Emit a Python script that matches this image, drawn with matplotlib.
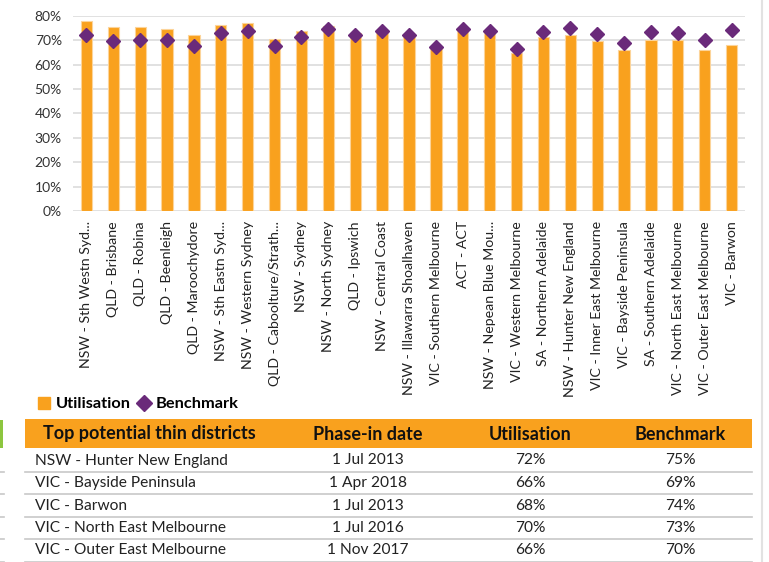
import matplotlib
matplotlib.use("Agg")
import matplotlib.pyplot as plt
from matplotlib.patches import Rectangle
from matplotlib.lines import Line2D
from matplotlib.transforms import Bbox, TransformedBbox

plt.rcParams['font.family'] = ['Lato', 'DejaVu Sans']

# chart data (percent)
districts = ["NSW - Sth Westn Syd...", "QLD - Brisbane", "QLD - Robina", "QLD - Beenleigh",
             "QLD - Maroochydore", "NSW - Sth Eastn Syd...", "NSW - Western Sydney",
             "QLD - Caboolture/Strath...", "NSW - Sydney", "NSW - North Sydney", "QLD - Ipswich",
             "NSW - Central Coast", "NSW - Illawarra Shoalhaven", "VIC - Southern Melbourne",
             "ACT - ACT", "NSW - Nepean Blue Mou...", "VIC - Western Melbourne",
             "SA - Northern Adelaide", "NSW - Hunter New England", "VIC - Inner East Melbourne",
             "VIC - Bayside Peninsula", "SA - Southern Adelaide", "VIC - North East Melbourne",
             "VIC - Outer East Melbourne", "VIC - Barwon"]
utilisation = [78, 75.2, 75.2, 74.6, 72.1, 76.2, 77.0, 70.3, 73.7, 75.8, 72.8, 74.3, 72.3,
               66.7, 73.7, 72.8, 64.6, 71.4, 72, 69.8, 66, 70.1, 70, 66, 68]
benchmark = [72, 69.6, 70, 69.9, 67.8, 72.8, 73.6, 67.8, 71.1, 74.7, 72.1, 73.7, 72.3,
             67.4, 74.4, 73.8, 66.4, 73.5, 75, 72.6, 69, 73.2, 73, 70, 74]

# table data
tbl_cols = ["Top potential thin districts", "Phase-in date", "Utilisation", "Benchmark"]
tbl_district = ["NSW - Hunter New England", "VIC - Bayside Peninsula", "VIC - Barwon",
                "VIC - North East Melbourne", "VIC - Outer East Melbourne"]
tbl_date = ["1 Jul 2013", "1 Apr 2018", "1 Jul 2013", "1 Jul 2016", "1 Nov 2017"]
tbl_util = ["72%", "66%", "68%", "70%", "66%"]
tbl_bench = ["75%", "69%", "74%", "73%", "70%"]

ORANGE = '#F9A11E'
PURPLE = '#6A2A7A'
W, H = 769, 562

fig = plt.figure(figsize=(W / 100, H / 100), dpi=100)

# chart
ax = fig.add_axes([73 / W, 1 - 211.3 / H, 672 / W, 195.6 / H])
x = range(len(districts))
ax.bar(x, utilisation, width=0.42, color=ORANGE, edgecolor='#FCD49A', linewidth=0.8, zorder=2)
ax.plot(x, benchmark, 'D', color=PURPLE, ms=7.5, zorder=3)
ax.set_xlim(-0.5, len(districts) - 0.5)
ax.set_ylim(0, 80)
ax.set_yticks(range(0, 81, 10))
ax.set_yticklabels([f"{v}%" for v in range(0, 81, 10)], fontsize=10, color='#333333')
ax.set_xticks(list(x))
ax.set_xticklabels(districts, rotation=90, fontsize=10.2, color='#222222')
ax.tick_params(length=0)
ax.tick_params(axis='y', pad=8)
ax.tick_params(axis='x', pad=7)
ax.grid(axis='y', color='#dcdcdc', linewidth=1.2, zorder=0)
ax.set_axisbelow(True)
for s in ax.spines.values():
    s.set_visible(False)

# labels are cut where the chart image ends
clip = TransformedBbox(Bbox([[0, 1 - 401 / H], [1, 1]]), fig.transFigure)
for lbl in ax.get_xticklabels():
    lbl.set_clip_box(clip)
    lbl.set_clip_on(True)

# legend
handles = [Line2D([], [], marker='s', ls='none', color=ORANGE, ms=8.5),
           Line2D([], [], marker='D', ls='none', color=PURPLE, ms=8.5)]
fig.legend(handles, ["Utilisation", "Benchmark"], loc='center left',
           bbox_to_anchor=(28 / W, 1 - 404 / H), ncol=2, frameon=False,
           prop={'weight': 'bold', 'size': 11.8}, handletextpad=0.2,
           columnspacing=0.3, handlelength=1.0, borderpad=0)

# table drawn in pixel coords
tx = fig.add_axes([0, 0, 1, 1], zorder=-1)
tx.set_xlim(0, W)
tx.set_ylim(H, 0)
tx.axis('off')

tx.add_patch(Rectangle((25, 419), 727, 29, color=ORANGE, lw=0))
col_x = [43, 368, 530, 680]
col_ha = ['left', 'center', 'center', 'center']
for cx, ha, name in zip(col_x, col_ha, tbl_cols):
    tx.text(cx, 434, name, ha=ha, va='center', fontsize=13, fontweight='bold', color='#111111')

row_y = [460.5, 483, 505.5, 528, 550.5]
for i, y in enumerate(row_y):
    tx.text(35, y, tbl_district[i], ha='left', va='center', fontsize=11.2, color='#222222')
    tx.text(368, y, tbl_date[i], ha='center', va='center', fontsize=11.2, color='#222222')
    tx.text(530, y, tbl_util[i], ha='center', va='center', fontsize=11.2, color='#222222')
    tx.text(680, y, tbl_bench[i], ha='center', va='center', fontsize=11.2, color='#222222')
    tx.plot([25, 752], [y + 11, y + 11], color='#c8c8c8', lw=1.2)
    tx.plot([0, 4], [y + 11, y + 11], color='#c8c8c8', lw=1.2)

# bits of neighbouring page content
tx.add_patch(Rectangle((0, 420), 2.5, 28, color='#8DC63F', lw=0))
tx.plot([762, 762], [0, H], color='#e2e2e2', lw=1.5)

fig.savefig("out.png", dpi=100)
